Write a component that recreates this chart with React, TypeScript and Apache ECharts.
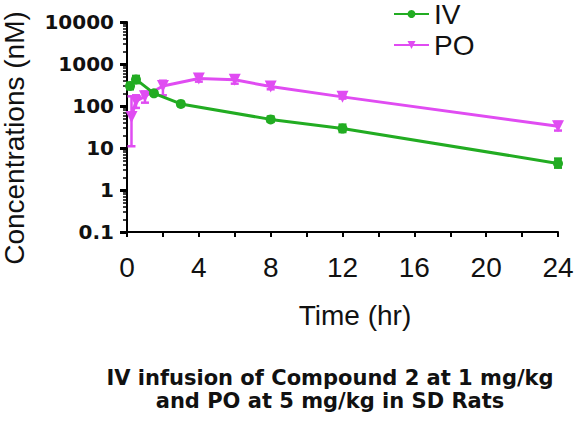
import React, { useEffect, useRef } from "react";
import * as echarts from "echarts";

const xTicks = [0, 4, 8, 12, 16, 20, 24];
const yTicks = [0.1, 1, 10, 100, 1000, 10000];

const ivTime = [0.17, 0.5, 1.5, 3, 8, 12, 24];
const ivConc = [300, 430, 200, 112, 48, 29, 4.3];
const ivLow = [250, 350, 180, 100, 42, 24, 3.4];
const ivHigh = [360, 520, 225, 125, 56, 36, 5.6];

const poTime = [0.25, 0.5, 1, 2, 4, 6, 8, 12, 24];
const poConc = [55, 130, 170, 300, 450, 420, 290, 165, 33];
const poLow = [11, 90, 120, 180, 380, 340, 250, 150, 26];
const poHigh = [170, 180, 220, 400, 530, 510, 340, 185, 42];

const titleLines = ["IV infusion of Compound 2 at 1 mg/kg", "and PO at 5 mg/kg in SD Rats"];

const GREEN = "#22ac22";
const MAGENTA = "#e04cf2";

function errorBars(color: string) {
  return (params: any, api: any) => {
    const x = api.value(0);
    const lo = api.coord([x, api.value(1)]);
    const hi = api.coord([x, api.value(2)]);
    const w = 4;
    const style = { stroke: color, lineWidth: 2.5 };
    return {
      type: "group",
      children: [
        { type: "line", shape: { x1: lo[0], y1: lo[1], x2: hi[0], y2: hi[1] }, style },
        { type: "line", shape: { x1: lo[0] - w, y1: lo[1], x2: lo[0] + w, y2: lo[1] }, style },
        { type: "line", shape: { x1: hi[0] - w, y1: hi[1], x2: hi[0] + w, y2: hi[1] }, style },
      ],
    };
  };
}

export default function App() {
  const ref = useRef<HTMLDivElement>(null);
  useEffect(() => {
    if (!ref.current) return;
    const chart = echarts.init(ref.current, null, { renderer: "svg" });
    const ivData = ivTime.map((t, i) => [t, ivConc[i]]);
    const poData = poTime.map((t, i) => [t, poConc[i]]);
    const ivErr = ivTime.map((t, i) => [t, ivLow[i], ivHigh[i]]);
    const poErr = poTime.map((t, i) => [t, poLow[i], poHigh[i]]);
    chart.setOption({
      animation: false,
      backgroundColor: "#ffffff",
      grid: { left: 127, right: 20, top: 22, bottom: 194, outerBoundsMode: "none" },
      legend: {
        orient: "vertical",
        left: 393,
        top: 0,
        padding: 0,
        itemWidth: 35,
        itemHeight: 10,
        itemGap: 3,
        textStyle: { fontSize: 28, fontFamily: "Liberation Sans", color: "#111" },
        data: ["IV", "PO"],
      },
      xAxis: {
        type: "value",
        min: 0,
        max: 24,
        interval: 2,
        axisLine: { show: true, lineStyle: { color: "#000", width: 2 } },
        axisTick: { show: true, length: 5, lineStyle: { color: "#000", width: 2 } },
        splitLine: { show: false },
        axisLabel: {
          margin: 21,
          fontSize: 28,
          fontFamily: "Liberation Sans",
          color: "#111",
          formatter: (v: number) => (xTicks.includes(v) ? String(v) : ""),
        },
      },
      yAxis: {
        type: "log",
        logBase: 10,
        min: yTicks[0],
        max: yTicks[yTicks.length - 1],
        axisLine: { show: true, lineStyle: { color: "#000", width: 2 } },
        axisTick: { show: true, length: 7, lineStyle: { color: "#000", width: 3 } },
        minorTick: { show: true, splitNumber: 9, length: 4, lineStyle: { color: "#000", width: 1.5 } },
        splitLine: { show: false },
        minorSplitLine: { show: false },
        axisLabel: {
          margin: 13,
          fontSize: 20,
          fontWeight: "bold",
          fontFamily: "DejaVu Sans",
          color: "#111",
          formatter: (v: number) => (v < 1 ? v.toFixed(1) : String(Math.round(v))),
        },
      },
      series: [
        {
          name: "IV",
          type: "line",
          data: ivData,
          color: GREEN,
          symbol: "circle",
          symbolSize: 10,
          lineStyle: { width: 3, color: GREEN },
          itemStyle: { color: GREEN },
          z: 3,
        },
        {
          name: "PO",
          type: "line",
          data: poData,
          color: MAGENTA,
          symbol: "triangle",
          symbolRotate: 180,
          symbolSize: 12,
          lineStyle: { width: 3, color: MAGENTA },
          itemStyle: { color: MAGENTA },
          z: 2,
        },
        {
          name: "IVerr",
          type: "custom",
          data: ivErr,
          renderItem: errorBars(GREEN),
          encode: { x: 0, y: [1, 2] },
          z: 3,
        },
        {
          name: "POerr",
          type: "custom",
          data: poErr,
          renderItem: errorBars(MAGENTA),
          encode: { x: 0, y: [1, 2] },
          z: 2,
        },
      ],
      graphic: [
        {
          type: "text",
          x: 14,
          y: 138,
          rotation: Math.PI / 2,
          style: {
            text: "Concentrations (nM)",
            fontSize: 28,
            fontFamily: "Liberation Sans",
            fill: "#111",
            align: "center",
            verticalAlign: "middle",
          },
        },
        {
          type: "text",
          x: 355,
          y: 315,
          style: {
            text: "Time (hr)",
            fontSize: 28,
            fontFamily: "Liberation Sans",
            fill: "#111",
            align: "center",
            verticalAlign: "middle",
          },
        },
        {
          type: "text",
          x: 330,
          y: 378,
          style: {
            text: titleLines[0],
            fontSize: 21,
            fontWeight: "bold",
            fontFamily: "DejaVu Sans",
            fill: "#111",
            align: "center",
            verticalAlign: "middle",
          },
        },
        {
          type: "text",
          x: 330,
          y: 401,
          style: {
            text: titleLines[1],
            fontSize: 21,
            fontWeight: "bold",
            fontFamily: "DejaVu Sans",
            fill: "#111",
            align: "center",
            verticalAlign: "middle",
          },
        },
      ],
    });
    return () => chart.dispose();
  }, []);
  return (
    <div
      ref={ref}
      style={{ position: "absolute", left: 0, top: 0, width: 578, height: 426 }}
    />
  );
}
